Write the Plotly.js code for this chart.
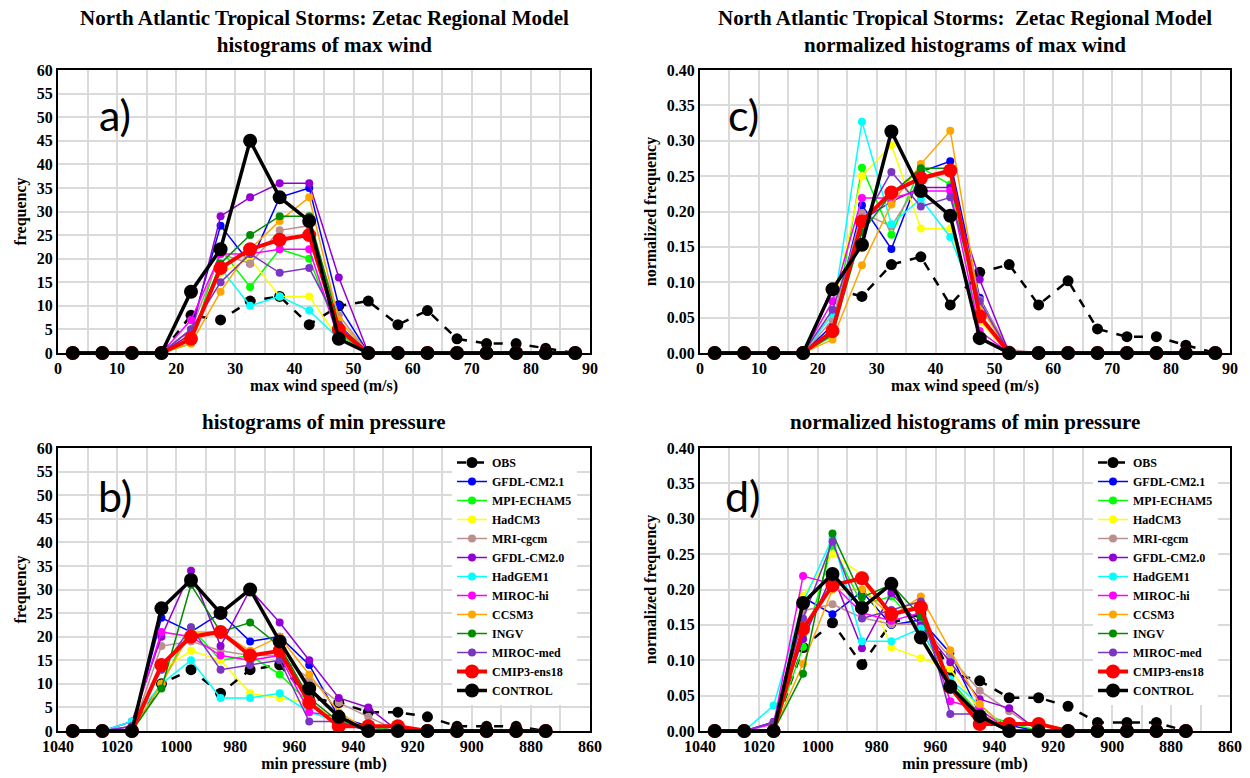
<!DOCTYPE html>
<html>
<head>
<meta charset="utf-8">
<script src="https://cdn.plot.ly/plotly-3.0.1.min.js"></script>
<style>html,body{margin:0;padding:0;background:#fff;}#chart{width:1250px;height:778px;}</style>
</head>
<body>
<div id="chart"></div>
<script>
// ---------------- DATA ----------------
const seriesNames = ["OBS","GFDL-CM2.1","MPI-ECHAM5","HadCM3","MRI-cgcm","GFDL-CM2.0","HadGEM1","MIROC-hi","CCSM3","INGV","MIROC-med","CMIP3-ens18","CONTROL"];

const windBins = [2.5,7.5,12.5,17.5,22.5,27.5,32.5,37.5,42.5,47.5,52.5,57.5,62.5,67.5,72.5,77.5,82.5,87.5];
const pressureBins = [1035,1025,1015,1005,995,985,975,965,955,945,935,925,915,905,895,885,875];

const windTicks = [0,10,20,30,40,50,60,70,80,90];
const pressureTicks = [1040,1020,1000,980,960,940,920,900,880,860];

// panel a: counts of max wind
const windCountOBS      = [0,0,0,0,8,7,11,12,6,10,11,6,9,3,2,2,1,0];
const windCountGFDL21   = [0,0,0,0,5,27,19,33,35,10,0,0,0,0,0,0,0,0];
const windCountMPI      = [0,0,0,0,2,22,14,22,20,4,0,0,0,0,0,0,0,0];
const windCountHadCM3   = [0,0,0,0,4,17,20,12,12,3,0,0,0,0,0,0,0,0];
const windCountMRI      = [0,0,0,0,5,21,19,26,27,8,0,0,0,0,0,0,0,0];
const windCountGFDL20   = [0,0,0,0,4,29,33,36,36,16,0,0,0,0,0,0,0,0];
const windCountHadGEM1  = [0,0,0,0,3,18,10,12,9,3,0,0,0,0,0,0,0,0];
const windCountMIROChi  = [0,0,0,0,7,21,21,22,22,3,0,0,0,0,0,0,0,0];
const windCountCCSM3    = [0,0,0,0,2,13,22,28,33,7,0,0,0,0,0,0,0,0];
const windCountINGV     = [0,0,0,0,3,19,25,29,29,6,0,0,0,0,0,0,0,0];
const windCountMIROCmed = [0,0,0,0,5,15,21,17,18,6,0,0,0,0,0,0,0,0];
const windCountCMIP3    = [0,0,0,0,3,18,22,24,25,5,0,0,0,0,0,0,0,0];
const windCountCONTROL  = [0,0,0,0,13,22,45,33,28,3,0,0,0,0,0,0,0,0];

// panel c: normalized max wind
const windNormOBS      = [0,0,0,0,0.091,0.080,0.125,0.136,0.068,0.114,0.125,0.068,0.102,0.034,0.023,0.023,0.011,0];
const windNormGFDL21   = [0,0,0,0,0.039,0.209,0.147,0.256,0.271,0.078,0,0,0,0,0,0,0,0];
const windNormMPI      = [0,0,0,0,0.024,0.262,0.167,0.262,0.238,0.048,0,0,0,0,0,0,0,0];
const windNormHadCM3   = [0,0,0,0,0.059,0.250,0.294,0.176,0.176,0.044,0,0,0,0,0,0,0,0];
const windNormMRI      = [0,0,0,0,0.047,0.198,0.179,0.245,0.255,0.075,0.005,0,0,0,0,0,0,0];
const windNormGFDL20   = [0,0,0,0,0.026,0.188,0.214,0.234,0.234,0.104,0,0,0,0,0,0,0,0];
const windNormHadGEM1  = [0,0,0,0,0.055,0.327,0.182,0.218,0.164,0.055,0,0,0,0,0,0,0,0];
const windNormMIROChi  = [0,0,0,0,0.073,0.219,0.219,0.229,0.229,0.031,0,0,0,0,0,0,0,0];
const windNormCCSM3    = [0,0,0,0,0.019,0.124,0.210,0.267,0.314,0.067,0,0,0,0,0,0,0,0];
const windNormINGV     = [0,0,0,0,0.027,0.171,0.225,0.261,0.261,0.054,0,0,0,0,0,0,0,0];
const windNormMIROCmed = [0,0,0,0,0.061,0.183,0.256,0.207,0.220,0.073,0,0,0,0,0,0,0,0];
const windNormCMIP3    = [0,0,0,0,0.031,0.186,0.227,0.247,0.258,0.052,0,0,0,0,0,0,0,0];
const windNormCONTROL  = [0,0,0,0,0.090,0.153,0.313,0.229,0.194,0.021,0,0,0,0,0,0,0,0];

// panel b: counts of min pressure
const presCountOBS      = [0,0,0,10,13,8,13,14,7,6,4,4,3,1,1,1,0];
const presCountGFDL21   = [0,0,0,24,21,25,19,20,14,3,1,0,0,0,0,0,0];
const presCountMPI      = [0,0,0,10,22,15,16,12,6,2,1,0,0,0,0,0,0];
const presCountHadCM3   = [0,0,0,13,17,15,8,7,6,2,0,0,0,0,0,0,0];
const presCountMRI      = [0,0,0,18,19,17,16,16,11,6,3,0,0,0,0,0,0];
const presCountGFDL20   = [0,0,2,20,34,18,30,23,15,7,5,0,0,0,0,0,0];
const presCountHadGEM1  = [0,0,2,10,15,7,7,8,4,2,0,0,0,0,0,0,0];
const presCountMIROChi  = [0,0,1,21,20,16,15,16,4,3,0,0,0,0,0,0,0];
const presCountCCSM3    = [0,0,0,10,21,21,17,20,12,4,0,0,0,0,0,0,0];
const presCountINGV     = [0,0,0,9,31,21,23,18,7,2,0,0,0,0,0,0,0];
const presCountMIROCmed = [0,0,1,13,22,13,14,15,2,2,0,0,0,0,0,0,0];
const presCountCMIP3    = [0,0,0,14,20,21,16,17,6,1,1,1,0,0,0,0,0];
const presCountCONTROL  = [0,0,0,26,32,25,30,19,9,3,0,0,0,0,0,0,0];

// panel d: normalized min pressure
const presNormOBS      = [0,0,0,0.118,0.153,0.094,0.153,0.165,0.082,0.071,0.047,0.047,0.035,0.012,0.012,0.012,0];
const presNormGFDL21   = [0,0,0,0.189,0.165,0.197,0.150,0.157,0.110,0.024,0.008,0,0,0,0,0,0];
const presNormMPI      = [0,0,0,0.119,0.262,0.179,0.190,0.143,0.071,0.024,0.012,0,0,0,0,0,0];
const presNormHadCM3   = [0,0,0,0.191,0.250,0.221,0.118,0.103,0.088,0.029,0,0,0,0,0,0,0];
const presNormMRI      = [0,0,0,0.170,0.179,0.160,0.151,0.151,0.104,0.057,0.028,0,0,0,0,0,0];
const presNormGFDL20   = [0,0,0.013,0.130,0.221,0.117,0.195,0.149,0.097,0.045,0.032,0,0,0,0,0,0];
const presNormHadGEM1  = [0,0,0.036,0.182,0.273,0.127,0.127,0.145,0.073,0.036,0,0,0,0,0,0,0];
const presNormMIROChi  = [0,0,0.010,0.219,0.208,0.167,0.156,0.167,0.042,0.031,0,0,0,0,0,0,0];
const presNormCCSM3    = [0,0,0,0.095,0.200,0.200,0.162,0.190,0.114,0.038,0,0,0,0,0,0,0];
const presNormINGV     = [0,0,0,0.081,0.279,0.189,0.207,0.162,0.063,0.018,0,0,0,0,0,0,0];
const presNormMIROCmed = [0,0,0.012,0.159,0.268,0.159,0.171,0.183,0.024,0.024,0,0,0,0,0,0,0];
const presNormCMIP3    = [0,0,0,0.144,0.206,0.216,0.165,0.175,0.062,0.010,0.010,0.010,0,0,0,0,0];
const presNormCONTROL  = [0,0,0,0.181,0.222,0.174,0.208,0.132,0.063,0.021,0,0,0,0,0,0,0];

// ---------------- STYLE ----------------
const seriesColors = ["#000000","#0000ff","#00ff00","#ffff00","#bc8f8f","#9400d3","#00ffff","#ff00ff","#ffa500","#008c00","#7b35c4","#ff0000","#000000"];

const windCounts = [windCountOBS,windCountGFDL21,windCountMPI,windCountHadCM3,windCountMRI,windCountGFDL20,windCountHadGEM1,windCountMIROChi,windCountCCSM3,windCountINGV,windCountMIROCmed,windCountCMIP3,windCountCONTROL];
const windNorms = [windNormOBS,windNormGFDL21,windNormMPI,windNormHadCM3,windNormMRI,windNormGFDL20,windNormHadGEM1,windNormMIROChi,windNormCCSM3,windNormINGV,windNormMIROCmed,windNormCMIP3,windNormCONTROL];
const presCounts = [presCountOBS,presCountGFDL21,presCountMPI,presCountHadCM3,presCountMRI,presCountGFDL20,presCountHadGEM1,presCountMIROChi,presCountCCSM3,presCountINGV,presCountMIROCmed,presCountCMIP3,presCountCONTROL];
const presNorms = [presNormOBS,presNormGFDL21,presNormMPI,presNormHadCM3,presNormMRI,presNormGFDL20,presNormHadGEM1,presNormMIROChi,presNormCCSM3,presNormINGV,presNormMIROCmed,presNormCMIP3,presNormCONTROL];

function styleFor(i){
  const name = seriesNames[i], c = seriesColors[i];
  if (name === "OBS") return {line:{color:c,width:2.5,dash:"dash"},marker:{color:c,size:11}};
  if (name === "CONTROL") return {line:{color:c,width:3.5},marker:{color:c,size:14}};
  if (name === "CMIP3-ens18") return {line:{color:c,width:4},marker:{color:c,size:14}};
  return {line:{color:c,width:1.5},marker:{color:c,size:8}};
}

const traces = [];
function addPanel(xs, ysList, xa, ya, legendId){
  ysList.forEach((ys, i) => {
    const st = styleFor(i);
    traces.push({
      type:"scatter", mode:"lines+markers", x: xs, y: ys, name: seriesNames[i],
      xaxis: xa, yaxis: ya, line: st.line, marker: st.marker, cliponaxis:false,
      showlegend: !!legendId, legend: legendId || "legend", hoverinfo:"x+y+name"
    });
  });
}
addPanel(windBins, windCounts, "x", "y", null);
addPanel(windBins, windNorms, "x2", "y2", null);
addPanel(pressureBins, presCounts, "x3", "y3", "legend");
addPanel(pressureBins, presNorms, "x4", "y4", "legend2");

const W = 1250, H = 778;
const serif = "Liberation Serif, Times New Roman, serif";
const tickFont = {family: serif, size: 16, color:"#000", weight:"bold"};
const titleFont = {family: serif, size: 16, color:"#000", weight:"bold"};
const grid = "#dadada";

function xAxis(px0, px1, range, tickvals, title, anchor){
  return {domain:[px0/W, px1/W], range: range, anchor: anchor,
    tickmode:"array", tickvals: tickvals, ticks:"", showgrid:true, gridcolor:grid, gridwidth:2,
    minor:{tickmode:"linear", tick0: 0, dtick: (range[0] > range[1] ? 10 : 5), showgrid:true, gridcolor:grid, gridwidth:2, ticks:""},
    showline:true, mirror:true, linecolor:"#000", linewidth:2, zeroline:false,
    tickfont: tickFont, title:{text:title, font:titleFont, standoff:0}, fixedrange:true};
}
function yAxis(py0, py1, range, dtick, fmt, title, anchor){
  return {domain:[1-py1/H, 1-py0/H], range: range, anchor: anchor, dtick: dtick, tick0:0,
    tickformat: fmt, ticks:"", showgrid:true, gridcolor:grid, gridwidth:2,
    showline:true, mirror:true, linecolor:"#000", linewidth:2, zeroline:false,
    tickfont: tickFont, title:{text:title, font:titleFont, standoff:6}, fixedrange:true};
}

const legendCommon = {bgcolor:"rgba(255,255,255,1)", borderwidth:0, font:{family:serif, size:12, color:"#000", weight:"bold"},
  xanchor:"left", yanchor:"top", tracegroupgap:0, itemwidth:30};

const panelLabelFont = {family:"Lato, Open Sans, sans-serif", size:43, color:"#000"};
const mainTitleFont = {family: serif, size: 21, color:"#000", weight:"bold"};

const layout = {
  width: W, height: H, margin:{l:0,r:0,t:0,b:0}, paper_bgcolor:"#fff", plot_bgcolor:"#fff",
  showlegend:true,
  xaxis:  xAxis(58, 590, [0,90], windTicks, "max wind speed (m/s)", "y"),
  yaxis:  yAxis(70, 353, [0,60], 5, "d", "frequency", "x"),
  xaxis2: xAxis(700, 1230, [0,90], windTicks, "max wind speed (m/s)", "y2"),
  yaxis2: yAxis(70, 353, [0,0.40], 0.05, ".2f", "normalized frequency", "x2"),
  xaxis3: xAxis(58, 590, [1040,860], pressureTicks, "min pressure (mb)", "y3"),
  yaxis3: yAxis(448, 731, [0,60], 5, "d", "frequency", "x3"),
  xaxis4: xAxis(700, 1230, [1040,860], pressureTicks, "min pressure (mb)", "y4"),
  yaxis4: yAxis(448, 731, [0,0.40], 0.05, ".2f", "normalized frequency", "x4"),
  legend:  Object.assign({x: 452/W, y: 1-448/H}, legendCommon),
  legend2: Object.assign({x: 1093/W, y: 1-448/H}, legendCommon),
  annotations: [
    {text:"North Atlantic Tropical Storms: Zetac Regional Model<br>histograms of max wind", x:324/W, y:1-4/H, xref:"paper", yref:"paper", xanchor:"center", yanchor:"top", showarrow:false, font:mainTitleFont},
    {text:"North Atlantic Tropical Storms:  Zetac Regional Model<br>normalized histograms of max wind", x:965/W, y:1-4/H, xref:"paper", yref:"paper", xanchor:"center", yanchor:"top", showarrow:false, font:mainTitleFont},
    {text:"histograms of min pressure", x:324/W, y:1-422/H, xref:"paper", yref:"paper", xanchor:"center", yanchor:"middle", showarrow:false, font:mainTitleFont},
    {text:"normalized histograms of min pressure", x:965/W, y:1-422/H, xref:"paper", yref:"paper", xanchor:"center", yanchor:"middle", showarrow:false, font:mainTitleFont},
    {text:"a)", x:115/W, y:1-115/H, xref:"paper", yref:"paper", xanchor:"center", yanchor:"middle", showarrow:false, font:panelLabelFont},
    {text:"b)", x:115/W, y:1-495/H, xref:"paper", yref:"paper", xanchor:"center", yanchor:"middle", showarrow:false, font:panelLabelFont},
    {text:"c)", x:743/W, y:1-115/H, xref:"paper", yref:"paper", xanchor:"center", yanchor:"middle", showarrow:false, font:panelLabelFont},
    {text:"d)", x:743/W, y:1-495/H, xref:"paper", yref:"paper", xanchor:"center", yanchor:"middle", showarrow:false, font:panelLabelFont}
  ]
};

Plotly.newPlot("chart", traces, layout, {displayModeBar:false, staticPlot:true});
</script>
</body>
</html>
